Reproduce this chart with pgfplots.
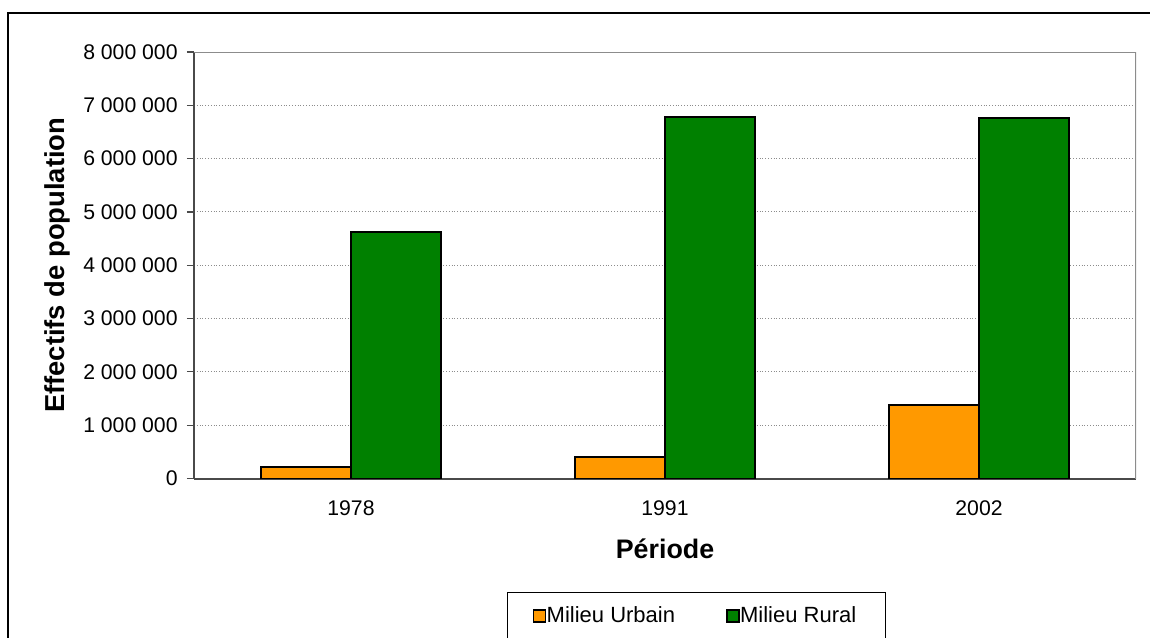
\documentclass[border=0pt]{standalone}
\usepackage{pgfplots}
\pgfplotsset{compat=1.18}
\usepackage{fontspec}
\setmainfont{Liberation Sans}
\definecolor{urb}{HTML}{FF9900}
\definecolor{rur}{HTML}{008000}
\definecolor{axdark}{HTML}{4A4A4A}
\definecolor{axlight}{HTML}{8C8C8C}
\begin{document}
\begin{tikzpicture}[x=1pt,y=1pt]
\useasboundingbox (0,0) rectangle (575,318.5);
\clip (0,0) rectangle (575,318.5);
\draw[line width=0.8pt, black] (4,-20) -- (4,312) -- (600,312);
\begin{axis}[
  at={(97pt,79.25pt)}, anchor=south west,
  scale only axis, width=471pt, height=213.25pt,
  ybar=0pt, bar width=45pt,
  xmin=-0.5, xmax=2.5, ymin=0, ymax=8000000,
  axis lines=left, axis line style={-, axdark, line width=1pt},
  xtick={0,1,2}, xticklabels={1978,1991,2002},
  xtick style={draw=none},
  extra x ticks={-0.5,0.5,1.5,2.5}, extra x tick labels={},
  extra x tick style={tick align=outside, major tick length=3.5pt, tick style={draw=axdark, line width=0.6pt}, grid=none},
  ytick={0,1000000,2000000,3000000,4000000,5000000,6000000,7000000,8000000},
  yticklabels={0,1 000 000,2 000 000,3 000 000,4 000 000,5 000 000,6 000 000,7 000 000,8 000 000},
  scaled y ticks=false,
  tick align=outside, major tick length=3.5pt,
  ytick style={draw=axdark, line width=0.6pt},
  ymajorgrids, major grid style={axlight, densely dotted, line width=0.5pt},
  tick label style={font=\fontsize{10.6}{12}\selectfont},
  xticklabel style={anchor=center, yshift=-11.25pt},
  yticklabel style={anchor=east, inner sep=0pt, xshift=-4.5pt},
  xlabel={\textbf{Période}},
  xlabel style={at={(axis description cs:0.5,-0.1653)}, anchor=center, font=\fontsize{13.4}{15}\selectfont},
  ylabel={\textbf{Effectifs de population}},
  ylabel style={at={(axis description cs:-0.1454,0.5)}, anchor=center, font=\fontsize{13.7}{15}\selectfont},
  legend columns=2,
  legend style={at={(axis description cs:0.3323,-0.2661)}, anchor=north west,
    draw=black, line width=0.5pt, inner xsep=12.5pt, inner ysep=5pt,
    font=\fontsize{11}{13}\selectfont,
    /tikz/every even column/.append style={column sep=23.4pt}},
  legend image code/.code={\draw[#1, line width=0.8pt] (0pt,-3pt) rectangle (6pt,3pt);},
]
\addplot[fill=urb, draw=black, line width=1pt] coordinates {(0,220000) (1,398000) (2,1380000)};
\addlegendentry{\hspace{-1.7pt}Milieu Urbain\hspace{-5pt}}
\addplot[fill=rur, draw=black, line width=1pt] coordinates {(0,4615000) (1,6780000) (2,6760000)};
\addlegendentry{\hspace{-1.7pt}Milieu Rural\hspace{-5pt}}
\draw[axlight, line width=1pt] (rel axis cs:0,1) -- (rel axis cs:1,1) -- (rel axis cs:1,0);
\end{axis}
\end{tikzpicture}
\end{document}
